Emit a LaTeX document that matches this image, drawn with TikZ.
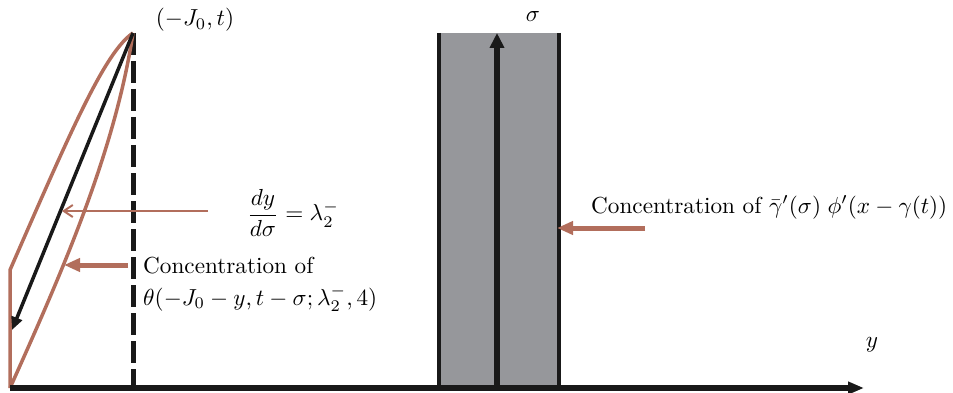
\documentclass[tikz,border=0pt]{standalone}
\usepackage{graphicx}
\usetikzlibrary{arrows.meta}
\definecolor{brn}{RGB}{178,110,92}
\definecolor{gry}{RGB}{150,151,155}
\newcommand{\bigtxt}[1]{\scalebox{2.32}{#1}}
\begin{document}
\begin{tikzpicture}[x=1pt,y=-1pt,
  brline/.style={draw=brn,line width=3.5pt},
  brthick/.style={draw=brn,line width=5pt,-{Triangle[length=16pt,width=13pt]}},
  brthin/.style={draw=brn,line width=2pt,-{Straight Barb[length=9pt,width=12pt]}},
  blkarrow/.style={draw=black!90,line width=3.5pt,-{Triangle[length=13pt,width=11pt]}},
  lbl/.style={anchor=base west,inner sep=0pt}]
\useasboundingbox (0,0) rectangle (953,393);
% key points
\coordinate (apex) at (133,33);
\coordinate (O) at (10,388);
\coordinate (K) at (10,270);
\coordinate (bt) at (12,330);
\coordinate (axend) at (864,388);
\coordinate (dsh) at (133,388);
% shaded band
\fill[gry] (438,33) rectangle (559,388);
\coordinate (bl1) at (438.5,33); \coordinate (bl2) at (438.5,388);
\coordinate (br1) at (559,33); \coordinate (br2) at (559,388);
\draw[line width=4pt,black!90] (bl1) -- (bl2);
\draw[line width=4pt,black!90] (br1) -- (br2);
\coordinate (vb) at (497,388); \coordinate (vt) at (497,33);
\draw[line width=5.5pt,black!90,-{Triangle[length=15pt,width=14pt]}] (vb) -- (vt);
% dashed vertical
\draw[line width=5pt,black!90,dash pattern=on 22pt off 6pt] (apex) -- (dsh);
% brown region
\draw[brline] (apex) .. controls (105,52) and (72,128) .. (K) -- (O);
\draw[brline] (O) .. controls (63,270) and (115,151) .. (apex);
% characteristic arrow
\draw[blkarrow] (apex) -- (bt);
% axis
\draw[line width=6pt,black!90,-{Triangle[length=16pt,width=12pt]}] (O) -- (axend);
% labels
\node[anchor=base,inner sep=0pt] (apexlab) at (195,26) {\bigtxt{$(-J_0,t)$}};
\node[inner sep=0pt] (sig) at (533,17) {\bigtxt{$\sigma$}};
\node[inner sep=0pt] (ylab) at (872,345) {\bigtxt{$y$}};
\node[inner sep=0pt] (dyds) at (293,213) {\bigtxt{$\displaystyle\frac{dy}{d\sigma}=\lambda_2^-$}};
\node[lbl] (conc1) at (143,273) {\bigtxt{Concentration of}};
\node[lbl] (conc2) at (143,305) {\bigtxt{$\theta(-J_0-y,t-\sigma;\lambda_2^-,4)$}};
\node[lbl] (conc3) at (591,213) {\bigtxt{Concentration of $\bar\gamma'(\sigma)\;\phi'(x-\gamma(t))$}};
% pointer arrows
\coordinate (t1s) at (208,211); \coordinate (t1e) at (62,211);
\draw[brthin] (t1s) -- (t1e);
\coordinate (t2s) at (128,265); \coordinate (t2e) at (64,265);
\draw[brthick] (t2s) -- (t2e);
\coordinate (t3s) at (645,228); \coordinate (t3e) at (557,228);
\draw[brthick] (t3s) -- (t3e);
\end{tikzpicture}
\end{document}
